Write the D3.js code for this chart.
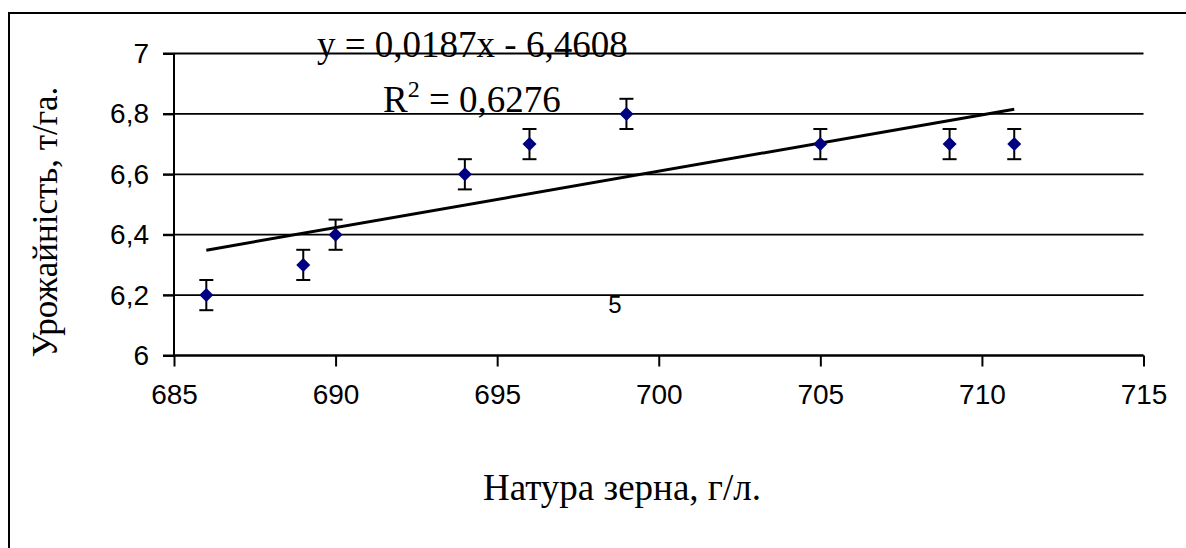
<!DOCTYPE html>
<html>
<head>
<meta charset="utf-8">
<script src="https://cdn.jsdelivr.net/npm/d3@7"></script>
<style>
  body { margin: 0; background: #fff; }
  svg { display: block; }
</style>
</head>
<body>
<svg id="chart"></svg>
<script>
// data
const natura = [686, 689, 690, 694, 696, 699, 705, 709, 711];
const yieldT = [6.2, 6.3, 6.4, 6.6, 6.7, 6.8, 6.7, 6.7, 6.7];
const errorSize = 0.05;
const xTicks = [685, 690, 695, 700, 705, 710, 715];
const yTicks = [6, 6.2, 6.4, 6.6, 6.8, 7];
const equationText = "y = 0,0187x - 6,4608";
const r2Value = "0,6276";
const xTitle = "Натура зерна, г/л.";
const yTitle = "Урожайність, т/га.";

const width = 1186;
const height = 548;

const svg = d3.select("#chart")
  .attr("width", width)
  .attr("height", height);

// outer frame (right and bottom sides run off the picture)
svg.append("rect")
  .attr("x", 9).attr("y", 13)
  .attr("width", 1300).attr("height", 700)
  .attr("fill", "none")
  .attr("stroke", "#000")
  .attr("stroke-width", 2);

const xScale = d3.scaleLinear().domain([685, 715]).range([174, 1143.5]);
const yScale = d3.scaleLinear().domain([6, 7]).range([355.5, 53.5]);

const locale = d3.formatLocale({ decimal: ",", thousands: " ", grouping: [3], currency: ["", ""] });
const fmtY = (d) => locale.format("~g")(d);

// gridlines
svg.append("g")
  .selectAll("line")
  .data(yTicks)
  .join("line")
  .attr("x1", xScale(685) - 11)
  .attr("x2", xScale(715))
  .attr("y1", (d) => yScale(d))
  .attr("y2", (d) => yScale(d))
  .attr("stroke", "#000")
  .attr("stroke-width", 1.8);

// Y axis
const yAxis = svg.append("g")
  .attr("transform", `translate(${xScale(685)}, 0)`)
  .call(d3.axisLeft(yScale).tickValues(yTicks).tickFormat(fmtY).tickSize(11).tickPadding(14));

// X axis
const xAxis = svg.append("g")
  .attr("transform", `translate(0, ${yScale(6)})`)
  .call(d3.axisBottom(xScale).tickValues(xTicks).tickFormat((d) => d).tickSize(11).tickPadding(18));

[xAxis, yAxis].forEach((g) => {
  g.select(".domain").attr("stroke", "#000").attr("stroke-width", 2);
  g.selectAll(".tick line").attr("stroke", "#000").attr("stroke-width", 2);
  g.selectAll(".tick text")
    .attr("fill", "#000")
    .style("font-family", "'Liberation Sans', Arial, sans-serif")
    .style("font-size", "28px");
});
xAxis.select(".domain").attr("d", `M${xScale(685)},0H${xScale(715)}`);
yAxis.select(".domain").attr("d", `M0,${yScale(6)}V${yScale(7)}`);

// trend line (least squares over the points)
const mx = d3.mean(natura);
const my = d3.mean(yieldT);
const sxy = d3.sum(natura, (x, i) => (x - mx) * (yieldT[i] - my));
const sxx = d3.sum(natura, (x) => (x - mx) * (x - mx));
const slope = sxy / sxx;
const intercept = my - slope * mx;
const xExt = d3.extent(natura);

svg.append("line")
  .attr("x1", xScale(xExt[0]))
  .attr("y1", yScale(slope * xExt[0] + intercept))
  .attr("x2", xScale(xExt[1]))
  .attr("y2", yScale(slope * xExt[1] + intercept))
  .attr("stroke", "#000")
  .attr("stroke-width", 3);

const points = natura.map((x, i) => ({ x, y: yieldT[i] }));

// error bars
const eb = svg.append("g").attr("stroke", "#000").attr("stroke-width", 2);
eb.selectAll(".v").data(points).join("line").attr("class", "v")
  .attr("x1", (d) => xScale(d.x)).attr("x2", (d) => xScale(d.x))
  .attr("y1", (d) => yScale(d.y - errorSize)).attr("y2", (d) => yScale(d.y + errorSize));
eb.selectAll(".top").data(points).join("line").attr("class", "top")
  .attr("x1", (d) => xScale(d.x) - 7).attr("x2", (d) => xScale(d.x) + 7)
  .attr("y1", (d) => yScale(d.y + errorSize)).attr("y2", (d) => yScale(d.y + errorSize));
eb.selectAll(".bot").data(points).join("line").attr("class", "bot")
  .attr("x1", (d) => xScale(d.x) - 7).attr("x2", (d) => xScale(d.x) + 7)
  .attr("y1", (d) => yScale(d.y - errorSize)).attr("y2", (d) => yScale(d.y - errorSize));

// diamond markers
svg.append("g")
  .selectAll("path")
  .data(points)
  .join("path")
  .attr("transform", (d) => `translate(${xScale(d.x)}, ${yScale(d.y)})`)
  .attr("d", "M0,-7L7,0L0,7L-7,0Z")
  .attr("fill", "#000080");

// texts
const serif = "'Liberation Serif', 'Times New Roman', serif";

svg.append("text")
  .attr("x", 317).attr("y", 57)
  .style("font-family", serif).style("font-size", "37px")
  .text(equationText);

const r2 = svg.append("text")
  .attr("x", 383).attr("y", 112)
  .style("font-family", serif).style("font-size", "37px");
r2.append("tspan").text("R");
r2.append("tspan").attr("dy", -15).style("font-size", "24px").text("2");
r2.append("tspan").attr("dy", 15).text(" = " + r2Value);

svg.append("text")
  .attr("x", 615).attr("y", 313)
  .attr("text-anchor", "middle")
  .style("font-family", "'Liberation Sans', Arial, sans-serif").style("font-size", "24px")
  .text("5");

svg.append("text")
  .attr("x", 622).attr("y", 500)
  .attr("text-anchor", "middle")
  .style("font-family", serif).style("font-size", "37px")
  .text(xTitle);

svg.append("text")
  .attr("transform", "translate(57, 222) rotate(-90)")
  .attr("text-anchor", "middle")
  .style("font-family", serif).style("font-size", "35px")
  .text(yTitle);
</script>
</body>
</html>
